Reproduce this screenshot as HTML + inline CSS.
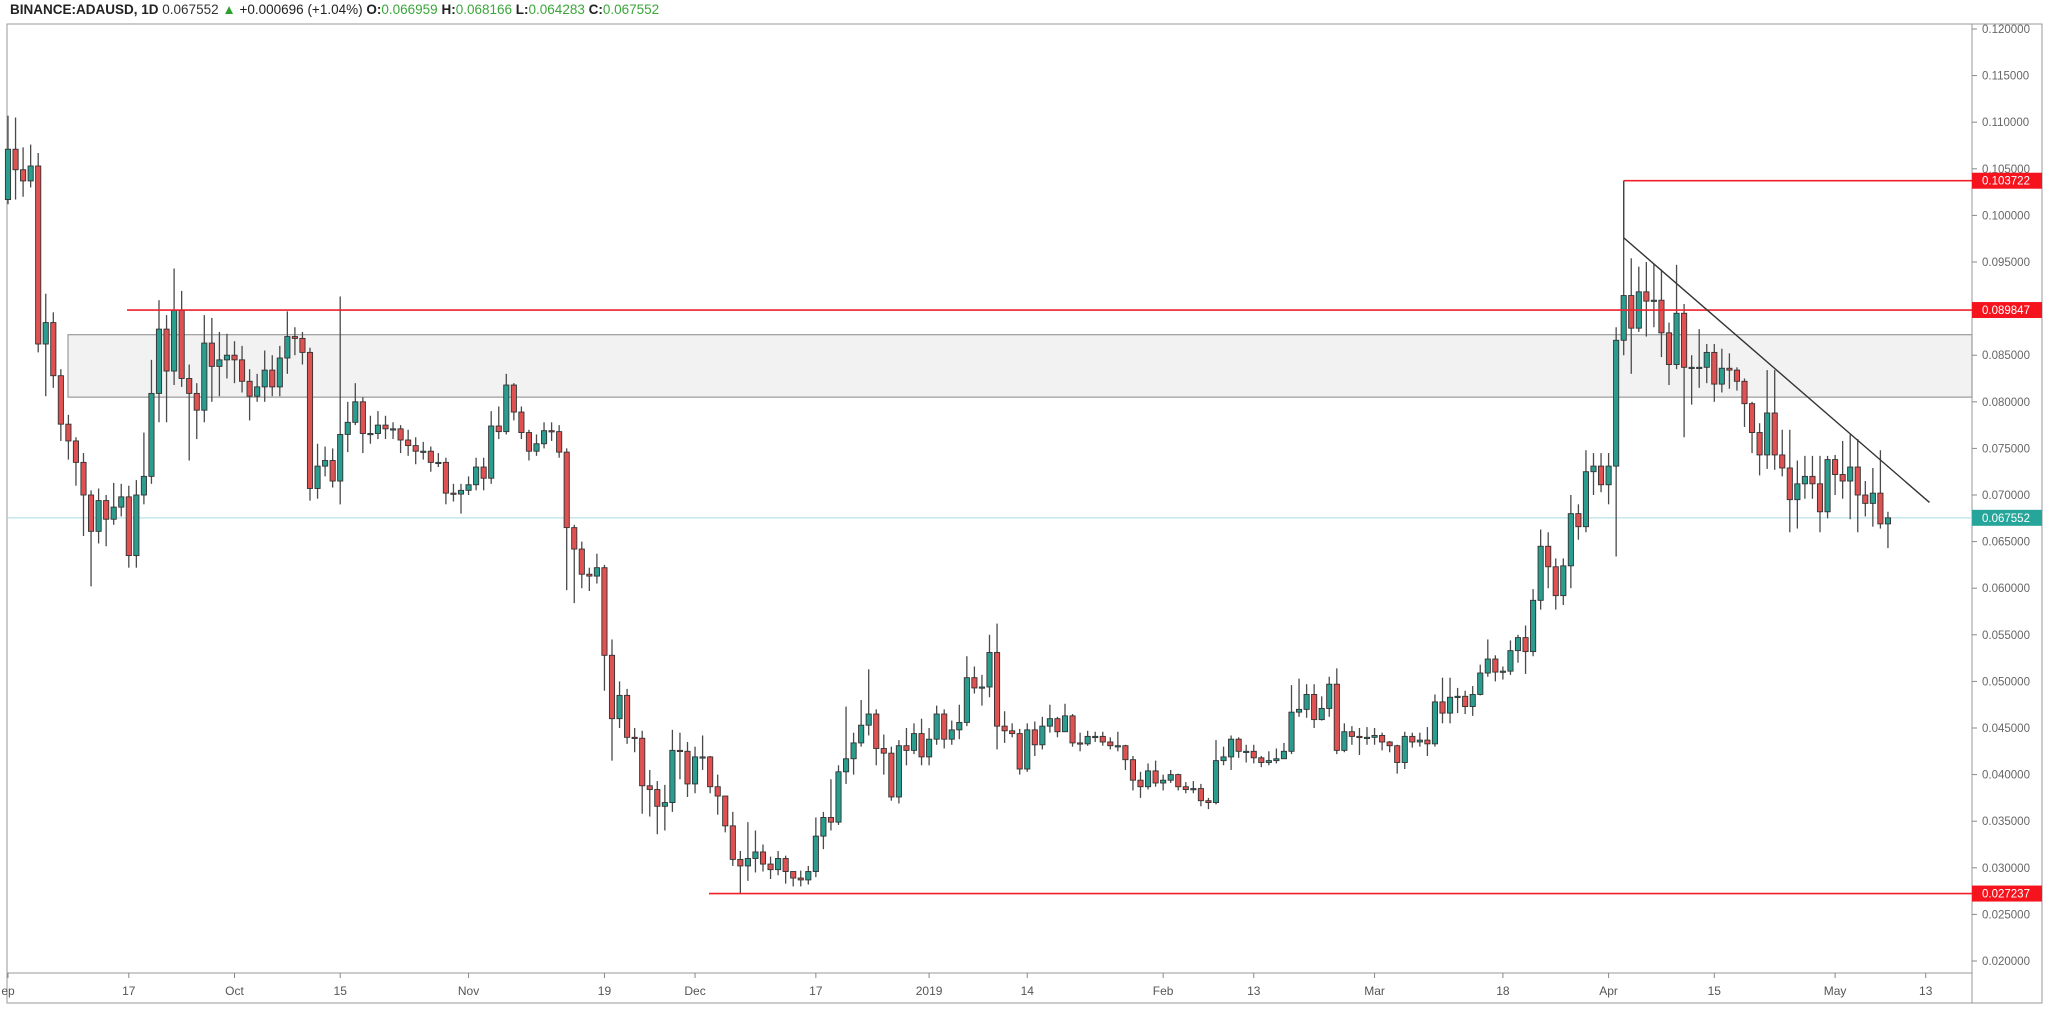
<!DOCTYPE html>
<html><head><meta charset="utf-8">
<style>
html,body{margin:0;padding:0;background:#fff;width:2048px;height:1010px;overflow:hidden;font-family:"Liberation Sans",sans-serif;}
svg{display:block}
</style></head>
<body>
<svg id="chart" width="2048" height="1010" xmlns="http://www.w3.org/2000/svg">
  <text x="10" y="14" font-family="Liberation Sans, sans-serif" font-size="13.5" fill="#222"><tspan font-weight="bold">BINANCE:ADAUSD, 1D</tspan> <tspan fill="#333">0.067552</tspan> <tspan fill="#2ca02c">▲</tspan> <tspan>+0.000696 (+1.04%)</tspan> <tspan font-weight="bold">O:</tspan><tspan fill="#3aa63a">0.066959</tspan> <tspan font-weight="bold">H:</tspan><tspan fill="#3aa63a">0.068166</tspan> <tspan font-weight="bold">L:</tspan><tspan fill="#3aa63a">0.064283</tspan> <tspan font-weight="bold">C:</tspan><tspan fill="#3aa63a">0.067552</tspan></text>
  <rect x="7" y="24" width="1965" height="949" fill="#fff" stroke="#999" stroke-width="1"/>
  <rect x="1972" y="24" width="70" height="979" fill="#fff" stroke="#999" stroke-width="1"/>
  <rect x="7" y="973" width="1965" height="30" fill="#fff" stroke="#999" stroke-width="1"/>
  <g id="layer-zone"></g>
  <g id="layer-lines"></g>
  <g id="layer-candles"></g>
  <g id="layer-draw"></g>
  <g id="layer-yaxis"></g>
  <g id="layer-xaxis"></g>
</svg>
<script>
const closes = [
0.1071,0.1049,0.1037,0.1053,0.0862,0.0885,0.0828,0.0776,0.0758,0.0735,
0.0700,0.0661,0.0694,0.0674,0.0687,0.0698,0.0635,0.0700,0.0720,0.0809,
0.0878,0.0833,0.0898,0.0825,0.0809,0.0791,0.0863,0.0838,0.0845,0.0850,
0.0845,0.0822,0.0806,0.0816,0.0834,0.0816,0.0847,0.0870,0.0868,0.0853,
0.0707,0.0731,0.0737,0.0715,0.0765,0.0778,0.0800,0.0766,0.0766,0.0775,
0.0771,0.0771,0.0759,0.0753,0.0747,0.0747,0.0735,0.0735,0.0702,0.0701,
0.0705,0.0711,0.0730,0.0718,0.0774,0.0768,0.0818,0.0789,0.0767,0.0747,
0.0755,0.0769,0.0768,0.0746,0.0665,0.0642,0.0615,0.0613,0.0622,0.0528,
0.0460,0.0485,0.0440,0.0439,0.0388,0.0384,0.0366,0.0370,0.0426,0.0425,
0.0390,0.0419,0.0419,0.0387,0.0377,0.0345,0.0309,0.0302,0.0310,0.0317,
0.0304,0.0298,0.0310,0.0296,0.0289,0.0287,0.0296,0.0334,0.0354,0.0349,
0.0403,0.0417,0.0434,0.0453,0.0465,0.0428,0.0423,0.0376,0.0431,0.0426,
0.0444,0.0419,0.0438,0.0465,0.0438,0.0448,0.0456,0.0504,0.0493,0.0494,
0.0531,0.0452,0.0447,0.0444,0.0406,0.0448,0.0432,0.0452,0.0460,0.0446,
0.0463,0.0434,0.0433,0.0441,0.0441,0.0435,0.0431,0.0431,0.0416,0.0394,
0.0387,0.0404,0.0391,0.0394,0.0400,0.0387,0.0384,0.0385,0.0372,0.0370,
0.0415,0.0419,0.0438,0.0425,0.0425,0.0418,0.0413,0.0415,0.0417,0.0425,
0.0467,0.0470,0.0486,0.0459,0.0471,0.0497,0.0426,0.0446,0.0441,0.0440,
0.0440,0.0442,0.0435,0.0431,0.0413,0.0441,0.0435,0.0437,0.0433,0.0478,
0.0466,0.0483,0.0484,0.0473,0.0486,0.0509,0.0524,0.0510,0.0511,0.0533,
0.0547,0.0532,0.0587,0.0645,0.0623,0.0592,0.0624,0.0680,0.0666,0.0725,
0.0731,0.0711,0.0731,0.0866,0.0914,0.0879,0.0918,0.0908,0.0909,0.0874,
0.0840,0.0895,0.0837,0.0837,0.0837,0.0853,0.0819,0.0836,0.0834,0.0822,
0.0798,0.0767,0.0743,0.0788,0.0743,0.0729,0.0695,0.0712,0.0720,0.0712,
0.0682,0.0738,0.0722,0.0715,0.0730,0.0700,0.0691,0.0702,0.0669,0.067552];
const highs = [
0.1107,0.1105,0.1073,0.1076,0.1067,0.0916,0.0896,0.0835,0.0786,0.0762,
0.0745,0.0705,0.0707,0.0700,0.0713,0.0712,0.0710,0.0716,0.0767,0.0845,
0.0909,0.0893,0.0943,0.0919,0.0840,0.0820,0.0893,0.0890,0.0875,0.0873,
0.0865,0.0860,0.0835,0.0830,0.0855,0.0850,0.0860,0.0897,0.0880,0.0875,
0.0858,0.0755,0.0752,0.0750,0.0913,0.0800,0.0820,0.0805,0.0785,0.0790,
0.0785,0.0778,0.0775,0.0770,0.0762,0.0757,0.0752,0.0745,0.0740,0.0712,
0.0712,0.0720,0.0740,0.0740,0.0790,0.0795,0.0830,0.0820,0.0795,0.0770,
0.0765,0.0778,0.0778,0.0775,0.0750,0.0668,0.0650,0.0622,0.0637,0.0625,
0.0545,0.0500,0.0492,0.0450,0.0447,0.0405,0.0393,0.0389,0.0448,0.0445,
0.0435,0.0430,0.0442,0.0420,0.0400,0.0377,0.0360,0.0318,0.0349,0.0340,
0.0325,0.0312,0.0318,0.0313,0.0296,0.0297,0.0302,0.0354,0.0360,0.0395,
0.0410,0.0473,0.0445,0.0480,0.0513,0.0470,0.0443,0.0430,0.0437,0.0450,
0.0455,0.0460,0.0450,0.0474,0.0470,0.0458,0.0475,0.0527,0.0516,0.0507,
0.0550,0.0562,0.0468,0.0455,0.0449,0.0455,0.0457,0.0462,0.0475,0.0462,
0.0476,0.0465,0.0445,0.0447,0.0446,0.0446,0.0440,0.0446,0.0432,0.0420,
0.0403,0.0412,0.0415,0.0400,0.0405,0.0401,0.0392,0.0393,0.0390,0.0375,
0.0437,0.0430,0.0442,0.0440,0.0432,0.0432,0.0420,0.0425,0.0428,0.0434,
0.0496,0.0503,0.0497,0.0497,0.0484,0.0505,0.0514,0.0455,0.0452,0.0450,
0.0451,0.0450,0.0445,0.0436,0.0432,0.0446,0.0445,0.0445,0.0451,0.0486,
0.0504,0.0504,0.0493,0.0490,0.0495,0.0518,0.0545,0.0528,0.0516,0.0544,
0.0550,0.0560,0.0599,0.0663,0.0660,0.0632,0.0632,0.0700,0.0690,0.0748,
0.0745,0.0745,0.0745,0.0880,0.1037,0.0954,0.0945,0.0950,0.0948,0.0942,
0.0885,0.0947,0.0905,0.0850,0.0878,0.0862,0.0862,0.0857,0.0852,0.0837,
0.0825,0.0800,0.0777,0.0834,0.0834,0.0770,0.0770,0.0737,0.0742,0.0742,
0.0742,0.0742,0.0743,0.0758,0.0765,0.0760,0.0715,0.0729,0.0748,0.0682];
const lows = [
0.1012,0.1017,0.1020,0.1030,0.0853,0.0806,0.0815,0.0758,0.0738,0.0710,
0.0656,0.0602,0.0648,0.0645,0.0668,0.0677,0.0622,0.0622,0.0690,0.0712,
0.0778,0.0778,0.0818,0.0816,0.0737,0.0760,0.0778,0.0800,0.0806,0.0825,
0.0820,0.0810,0.0780,0.0800,0.0800,0.0806,0.0806,0.0830,0.0850,0.0840,
0.0694,0.0696,0.0720,0.0708,0.0690,0.0746,0.0775,0.0745,0.0755,0.0760,
0.0760,0.0760,0.0745,0.0742,0.0733,0.0738,0.0725,0.0730,0.0690,0.0693,
0.0680,0.0700,0.0705,0.0705,0.0712,0.0760,0.0765,0.0780,0.0760,0.0737,
0.0742,0.0750,0.0758,0.0740,0.0598,0.0584,0.0600,0.0597,0.0605,0.0490,
0.0415,0.0450,0.0433,0.0424,0.0358,0.0355,0.0336,0.0340,0.0360,0.0395,
0.0376,0.0380,0.0405,0.0380,0.0357,0.0338,0.0302,0.0272,0.0286,0.0295,
0.0296,0.0288,0.0292,0.0283,0.0280,0.0280,0.0282,0.0290,0.0320,0.0340,
0.0346,0.0390,0.0400,0.0430,0.0442,0.0410,0.0400,0.0372,0.0369,0.0410,
0.0422,0.0410,0.0410,0.0432,0.0428,0.0432,0.0438,0.0452,0.0487,0.0474,
0.0483,0.0427,0.0434,0.0440,0.0400,0.0403,0.0420,0.0427,0.0445,0.0440,
0.0448,0.0430,0.0425,0.0431,0.0435,0.0431,0.0427,0.0425,0.0405,0.0383,
0.0375,0.0384,0.0387,0.0383,0.0391,0.0383,0.0380,0.0380,0.0366,0.0363,
0.0368,0.0410,0.0405,0.0418,0.0413,0.0412,0.0408,0.0410,0.0412,0.0420,
0.0422,0.0462,0.0461,0.0450,0.0458,0.0462,0.0422,0.0424,0.0432,0.0421,
0.0432,0.0432,0.0426,0.0424,0.0401,0.0406,0.0429,0.0430,0.0420,0.0430,
0.0455,0.0455,0.0466,0.0465,0.0463,0.0485,0.0505,0.0500,0.0502,0.0507,
0.0520,0.0508,0.0527,0.0577,0.0600,0.0577,0.0582,0.0600,0.0652,0.0660,
0.0700,0.0703,0.0690,0.0634,0.0850,0.0830,0.0875,0.0870,0.0880,0.0848,
0.0818,0.0835,0.0762,0.0797,0.0815,0.0820,0.0800,0.0810,0.0814,0.0812,
0.0773,0.0745,0.0721,0.0728,0.0727,0.0720,0.0660,0.0664,0.0696,0.0696,
0.0660,0.0675,0.0700,0.0696,0.0674,0.0660,0.0677,0.0666,0.0664,0.0643];
const firstOpen = 0.1017;
const priceTicks = [0.120,0.115,0.110,0.105,0.100,0.095,0.090,0.085,0.080,0.075,0.070,0.065,0.060,0.055,0.050,0.045,0.040,0.035,0.030,0.025,0.020];
const dateLabels = ["ep","17","Oct","15","Nov","19","Dec","17","2019","14","Feb","13","Mar","18","Apr","15","May","13"];
const dateIndex = [0,16,30,44,61,79,91,107,122,135,153,165,181,198,212,226,242,254];
const levelPrices = [0.103722,0.089847,0.027237];
const zoneTop = 0.0872, zoneBottom = 0.0805;
const lastPrice = 0.067552;
const trendStart = {i:214, p:0.0976};
const trendEnd = {i:254.5, p:0.0692};

const NS="http://www.w3.org/2000/svg";
function yOf(p){return 29+(0.12-p)*9320;}
function xOf(i){return 8+i*7.55;}
function mk(tag,attrs,parent){const e=document.createElementNS(NS,tag);for(const k in attrs)e.setAttribute(k,attrs[k]);parent.appendChild(e);return e;}
const L=id=>document.getElementById(id);
const PR=1972;

// zone
let z=mk('rect',{x:68,y:yOf(zoneTop),width:PR-68,height:yOf(zoneBottom)-yOf(zoneTop),fill:'#f2f2f2',stroke:'#9a9a9a','stroke-width':1.2},L('layer-zone'));


// last price line
let lp=mk('line',{x1:7,x2:PR,y1:yOf(lastPrice),y2:yOf(lastPrice),stroke:'#a8dde3','stroke-width':1},L('layer-lines'));



// candles
const G=L('layer-candles');
for(let i=0;i<closes.length;i++){
  const o=i===0?firstOpen:closes[i-1], c=closes[i];
  const x=xOf(i);
  const up=c>=o;
  const w=mk('line',{x1:x,x2:x,y1:yOf(highs[i]),y2:yOf(lows[i]),stroke:'#4a4a4a','stroke-width':1.3},G);
  
  
  const yt=yOf(Math.max(o,c)), yb=yOf(Math.min(o,c));
  const b=mk('rect',{x:x-2.6,y:yt,width:5.2,height:Math.max(1.2,yb-yt),fill:up?'#2a9d8f':'#e05252',stroke:'#333','stroke-width':0.9},G);
  
  
}

// drawings
const D=L('layer-draw');
const x0=xOf(trendStart.i);
let r1=mk('line',{x1:x0,x2:PR,y1:yOf(levelPrices[0]),y2:yOf(levelPrices[0]),stroke:'#f0202a','stroke-width':1.6},D);


let vl=mk('line',{x1:x0,x2:x0,y1:yOf(levelPrices[0]),y2:yOf(trendStart.p),stroke:'#444','stroke-width':1.3},D);


let r2=mk('line',{x1:127,x2:PR,y1:yOf(levelPrices[1]),y2:yOf(levelPrices[1]),stroke:'#f0202a','stroke-width':1.6},D);


let r3=mk('line',{x1:709,x2:PR,y1:yOf(levelPrices[2]),y2:yOf(levelPrices[2]),stroke:'#f0202a','stroke-width':1.6},D);


let tl=mk('line',{x1:x0,y1:yOf(trendStart.p),x2:xOf(trendEnd.i),y2:yOf(trendEnd.p),stroke:'#333','stroke-width':1.4},D);



// y axis
const Y=L('layer-yaxis');
priceTicks.forEach(p=>{
  const y=yOf(p);
  const t=mk('line',{x1:PR,x2:PR+5,y1:y,y2:y,stroke:'#888','stroke-width':1},Y);
  
  
  const tx=mk('text',{x:PR+10,y:y+4,'font-size':11.5,fill:'#666','font-family':'Liberation Sans, sans-serif'},Y);
  tx.textContent=p.toFixed(6);
  
  
});
const tags=[[levelPrices[0],'#f5141e'],[levelPrices[1],'#f5141e'],[lastPrice,'#26a69a'],[levelPrices[2],'#f5141e']];
tags.forEach(([p,col])=>{
  const y=yOf(p);
  const r=mk('rect',{x:PR,y:y-8,width:70,height:16,fill:col},Y);
  
  
  const tx=mk('text',{x:PR+10,y:y+4,'font-size':11.5,fill:'#fff','font-family':'Liberation Sans, sans-serif'},Y);
  tx.textContent=p.toFixed(6);
  
  
});

// x axis
const X=L('layer-xaxis');
dateLabels.forEach((lab,k)=>{
  const x=xOf(dateIndex[k]);
  const t=mk('line',{x1:x,x2:x,y1:973,y2:978,stroke:'#888','stroke-width':1},X);
  
  
  const tx=mk('text',{x:x,y:995,'font-size':12,fill:'#555','text-anchor':'middle','font-family':'Liberation Sans, sans-serif'},X);
  tx.textContent=lab;
  
  
});
</script>
</body></html>
